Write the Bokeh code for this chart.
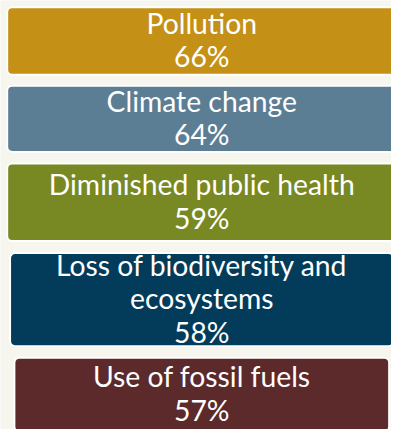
from bokeh.plotting import figure
from bokeh.models import Range1d, ColumnDataSource
from bokeh.core.properties import value
from bokeh.embed import file_html
from bokeh.resources import INLINE

# ---- data ----
categories = ["Pollution", "Climate change", "Diminished public health",
              "Loss of biodiversity and\necosystems", "Use of fossil fuels"]
values = [66, 64, 59, 58, 57]
colors = ["#C49116", "#5B7E95", "#788822", "#033B5A", "#5C2A2B"]

# ---- layout (frame of the original 407x445 picture) ----
BG = "#F6F5EE"
REF_W, REF_H = 407, 445
box_top = [7, 88.5, 169, 262, 370.5]
box_bottom = [77, 157, 249.5, 358.5, 447]
left_edge = [7, 7, 7, 10, 14.5]
center_x = 209.5
line_pitch = 34.7
text_shift = -1.4
FONT = "Lato"

W, H = 391, 429
scale = W / REF_W
FSIZE = f"{29.5 * scale:.1f}px"

p = figure(width=W, height=H, output_backend="svg", toolbar_location=None,
           x_range=Range1d(0, REF_W), y_range=Range1d(REF_H, 0),
           min_border=0, background_fill_color=BG, border_fill_color=BG,
           outline_line_color=None)
p.axis.visible = False
p.grid.visible = False

src = ColumnDataSource(dict(
    left=left_edge,
    right=[2 * center_x - l for l in left_edge],
    top=box_top, bottom=box_bottom, color=colors))
p.quad(left="left", right="right", top="top", bottom="bottom", source=src,
       fill_color="color", line_color="#FFFFFF", line_width=2 * scale,
       border_radius=5)

tx, ty, tt = [], [], []
for i, (cat, v) in enumerate(zip(categories, values)):
    lines = cat.split("\n") + [f"{v}%"]
    mid = (box_top[i] + box_bottom[i]) / 2 + text_shift
    n = len(lines)
    for j, ln in enumerate(lines):
        tx.append(center_x)
        ty.append(mid + (j - (n - 1) / 2) * line_pitch)
        tt.append(ln)

p.text(x=tx, y=ty, text=tt, text_align="center", text_baseline="alphabetic",
       text_color="#FFFFFF", text_font=value(FONT), text_font_size=FSIZE)

open("out.html", "w").write(file_html(p, INLINE))
